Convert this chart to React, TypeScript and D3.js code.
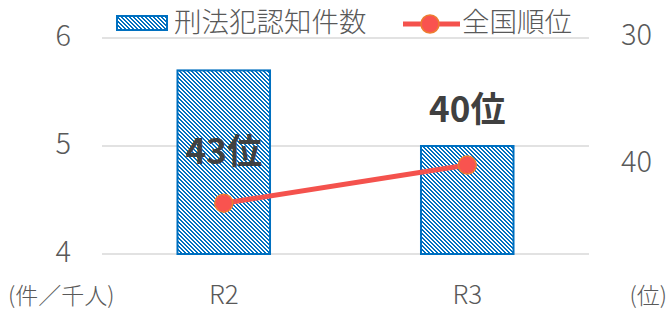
import React from "react";
import * as d3 from "d3";

const categories = ["R2", "R3"];
const crimeRate = [5.7, 5.0];
const rank = [43, 40];
const rankLabels = ["43位", "40位"];
const leftTicks = [4, 5, 6];
const rightTicks = [30, 40];

const W = 669;
const H = 311;
const FONT = "'Noto Sans CJK JP', 'Noto Sans', sans-serif";
const GRAY = "#595959";
const BLUE = "#0070c0";

export default function App() {
  const x = d3.scaleBand<string>().domain(categories).range([102, 589]).paddingInner(0.62).paddingOuter(0.31);
  const yL = d3.scaleLinear().domain([4, 6]).range([254, 38]);
  const yR = d3.scaleLinear().domain([30, 47]).range([38, 254]);
  const cx = (c: string) => (x(c) as number) + x.bandwidth() / 2;
  const line = d3
    .line<number>()
    .x((_, i) => cx(categories[i]))
    .y((d) => yR(d));

  return (
    <svg width={W} height={H} style={{ position: "absolute", left: 0, top: 0 }} fontFamily={FONT}>
      <defs>
        <pattern id="hatch" width={4} height={4} patternUnits="userSpaceOnUse">
          <rect width={4} height={4} fill="#fff" />
          {[0, 1, 2, 3].map((i) => (
            <rect key={i} x={i} y={i} width={2} height={1} fill={BLUE} shapeRendering="crispEdges" />
          ))}
          <rect x={0} y={3} width={1} height={1} fill={BLUE} shapeRendering="crispEdges" />
        </pattern>
      </defs>
      <rect width={W} height={H} fill="#fff" />
      {leftTicks.map((t) => (
        <line key={t} x1={102} x2={589} y1={yL(t)} y2={yL(t)} stroke="#d9d9d9" strokeWidth={1.5} />
      ))}
      {leftTicks.map((t) => (
        <text key={t} x={71} y={yL(t) - 2} dy="0.36em" textAnchor="end" fontSize={29} fill={GRAY} fontWeight={300}>
          {t}
        </text>
      ))}
      {rightTicks.map((t) => (
        <text key={t} x={621} y={yR(t) - 3} dy="0.36em" textAnchor="start" fontSize={29} fill={GRAY} fontWeight={300}>
          {t}
        </text>
      ))}
      {categories.map((c, i) => (
        <rect
          key={c}
          x={x(c)}
          y={yL(crimeRate[i])}
          width={x.bandwidth()}
          height={yL(4) - yL(crimeRate[i])}
          fill="url(#hatch)"
          stroke={BLUE}
          strokeWidth={2}
        />
      ))}
      <path d={line(rank) || ""} fill="none" stroke="#f4524d" strokeWidth={5} />
      {rank.map((r, i) => (
        <circle key={i} cx={cx(categories[i])} cy={yR(r)} r={9} fill="#f9534f" stroke="#ed7d31" strokeWidth={1.5} />
      ))}
      <text x={cx(categories[0])} y={151} dy="0.36em" textAnchor="middle" fontSize={35} fontWeight="bold" fill="#404040">
        {rankLabels[0]}
      </text>
      <text x={cx(categories[1])} y={109} dy="0.36em" textAnchor="middle" fontSize={35} fontWeight="bold" fill="#404040">
        {rankLabels[1]}
      </text>
      {categories.map((c) => (
        <text key={c} x={cx(c)} y={295} dy="0.36em" textAnchor="middle" fontSize={26} fill={GRAY} fontWeight={300}>
          {c}
        </text>
      ))}
      <text x={8} y={296} dy="0.36em" fontSize={23} fill={GRAY} fontWeight={300}>(件／千人)</text>
      <text x={667} y={296} dy="0.36em" textAnchor="end" fontSize={23} fill={GRAY} fontWeight={300}>(位)</text>
      {/* legend */}
      <rect x={117} y={16} width={50} height={14} fill="url(#hatch)" stroke={BLUE} strokeWidth={2} />
      <text x={174} y={22} dy="0.36em" fontSize={27.5} fill={GRAY} fontWeight={300}>刑法犯認知件数</text>
      <line x1={403} x2={460} y1={24} y2={24} stroke="#f4524d" strokeWidth={5} />
      <circle cx={430} cy={24} r={9} fill="#f9534f" stroke="#ed7d31" strokeWidth={1.5} />
      <text x={462} y={22} dy="0.36em" fontSize={27.5} fill={GRAY} fontWeight={300}>全国順位</text>
    </svg>
  );
}
